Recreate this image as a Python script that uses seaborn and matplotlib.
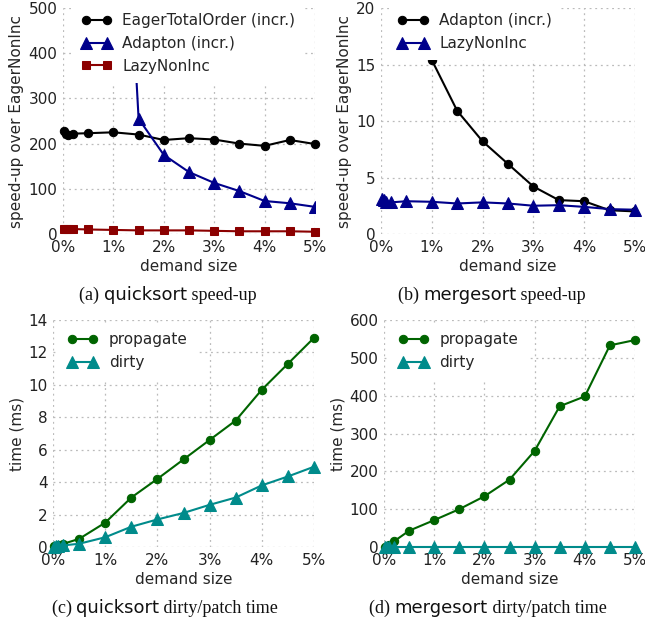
import matplotlib
matplotlib.use("Agg")
import matplotlib.pyplot as plt
import seaborn as sns

# demand size (%)
demand = [0.01, 0.05, 0.1, 0.2, 0.5, 1, 1.5, 2, 2.5, 3, 3.5, 4, 4.5, 5]

# (a) quicksort speed-up over EagerNonInc
qs_eager_total = [228, 222, 218, 222, 223, 225, 220, 208, 212, 209, 200, 195, 208, 199]
qs_adapton = [9000, 7000, 5500, 4000, 2300, 1270, 255, 175, 137, 113, 95, 73, 68, 60]
qs_lazy = [10, 12, 12, 11, 10, 9, 8, 8, 8, 7, 6, 6, 6, 5]

# (b) mergesort speed-up over EagerNonInc
ms_adapton = [160, 120, 90, 60, 40, 15.4, 10.9, 8.2, 6.2, 4.2, 3.0, 2.9, 2.1, 2.0]
ms_lazy = [3.1, 3.0, 2.8, 2.8, 2.9, 2.85, 2.7, 2.8, 2.7, 2.5, 2.55, 2.4, 2.2, 2.15]

# (c) quicksort dirty/patch time (ms)
qs_propagate = [0.05, 0.08, 0.12, 0.2, 0.5, 1.5, 3.05, 4.2, 5.4, 6.6, 7.8, 9.7, 11.3, 12.9]
qs_dirty = [0.02, 0.04, 0.06, 0.1, 0.2, 0.6, 1.25, 1.7, 2.1, 2.6, 3.05, 3.8, 4.35, 4.95]

# (d) mergesort dirty/patch time (ms)
ms_propagate = [1, 3, 6, 15, 43, 71, 100, 134, 178, 254, 372, 398, 533, 547]
ms_dirty = [0.5] * 14

sns.set_theme(style="whitegrid")
plt.rcParams["font.family"] = ["DejaVu Sans"]
plt.rcParams["font.size"] = 11

W, H = 645, 625
fig = plt.figure(figsize=(W / 100, H / 100), dpi=100)


def make_ax(l, r, t, b):
    return fig.add_axes([l / W, 1 - b / H, (r - l) / W, (b - t) / H])


def style_ax(ax, ymax, yticks, ylabel, anchor):
    ax.set_xlim(0, 5)
    ax.set_ylim(0, ymax)
    ax.set_xticks(range(6))
    ax.set_xticklabels([f"{i}%" for i in range(6)])
    ax.set_yticks(yticks)
    ax.set_facecolor("white")
    for s in ax.spines.values():
        s.set_visible(False)
    ax.grid(True, linestyle=(0, (1.5, 3)), color="#bbbbbb", linewidth=0.9)
    ax.tick_params(axis="both", length=0, labelsize=11, colors="#222222", pad=4)
    ax.set_xlabel("demand size", fontsize=11, labelpad=3)
    ax.set_ylabel(ylabel, fontsize=11, labelpad=3)
    # legend sits on an opaque white box that hides grid and lines beneath it
    leg = ax.legend(loc="upper left", frameon=True, fontsize=11, handlelength=2.0,
                    numpoints=2, borderaxespad=0.0, borderpad=0.6, labelspacing=0.5,
                    handletextpad=0.7, bbox_to_anchor=anchor,
                    facecolor="white", edgecolor="none", framealpha=1.0)
    leg.set_zorder(5)


def series(ax, y, color, marker, ms, label, clip=False):
    sns.lineplot(x=demand, y=y, ax=ax, color=color, marker=marker, markersize=ms,
                 markeredgecolor=color, linewidth=1.5, label=label, clip_on=clip)


# (a)
ax_a = make_ax(63, 315, 8, 234)
series(ax_a, qs_eager_total, "black", "o", 6, "EagerTotalOrder (incr.)")
series(ax_a, qs_adapton, "#00008b", "^", 8, "Adapton (incr.)", clip=True)
series(ax_a, qs_lazy, "#8b0000", "s", 6, "LazyNonInc")
style_ax(ax_a, 500, range(0, 501, 100), "speed-up over EagerNonInc", (0.035, 1.017))

# (b)
ax_b = make_ax(381, 635, 8, 234)
series(ax_b, ms_adapton, "black", "o", 6, "Adapton (incr.)", clip=True)
series(ax_b, ms_lazy, "#00008b", "^", 8, "LazyNonInc")
style_ax(ax_b, 20, range(0, 21, 5), "speed-up over EagerNonInc", (0.03, 1.017))

# (c)
ax_c = make_ax(53, 314, 320, 547)
series(ax_c, qs_propagate, "#006400", "o", 6, "propagate")
series(ax_c, qs_dirty, "#008b8b", "^", 8, "dirty")
style_ax(ax_c, 14, range(0, 15, 2), "time (ms)", (0.02, 0.986))

# (d)
ax_d = make_ax(384, 635, 320, 547)
series(ax_d, ms_propagate, "#006400", "o", 6, "propagate")
series(ax_d, ms_dirty, "#008b8b", "^", 8, "dirty")
style_ax(ax_d, 600, range(0, 601, 100), "time (ms)", (0.02, 0.986))


def caption(xc, yb, parts, size=13):
    texts = []
    for s, fam in parts:
        texts.append(fig.text(0, 1 - yb / H, s, family=fam, fontsize=size,
                              va="baseline", ha="left", color="#111111"))
    fig.canvas.draw()
    r = fig.canvas.get_renderer()
    widths = [t.get_window_extent(r).width for t in texts]
    x = xc - sum(widths) / 2
    for t, w in zip(texts, widths):
        t.set_x(x / W)
        x += w


serif = "Liberation Serif"
sans = "DejaVu Sans"
caption(168, 300, [("(a)\u00a0", serif), ("quicksort", sans), ("\u00a0speed-up", serif)])
caption(492, 300, [("(b)\u00a0", serif), ("mergesort", sans), ("\u00a0speed-up", serif)])
caption(165, 613, [("(c)\u00a0", serif), ("quicksort", sans), ("\u00a0dirty/patch time", serif)])
caption(488, 613, [("(d)\u00a0", serif), ("mergesort", sans), ("\u00a0dirty/patch time", serif)])

fig.savefig("out.png", dpi=100)
